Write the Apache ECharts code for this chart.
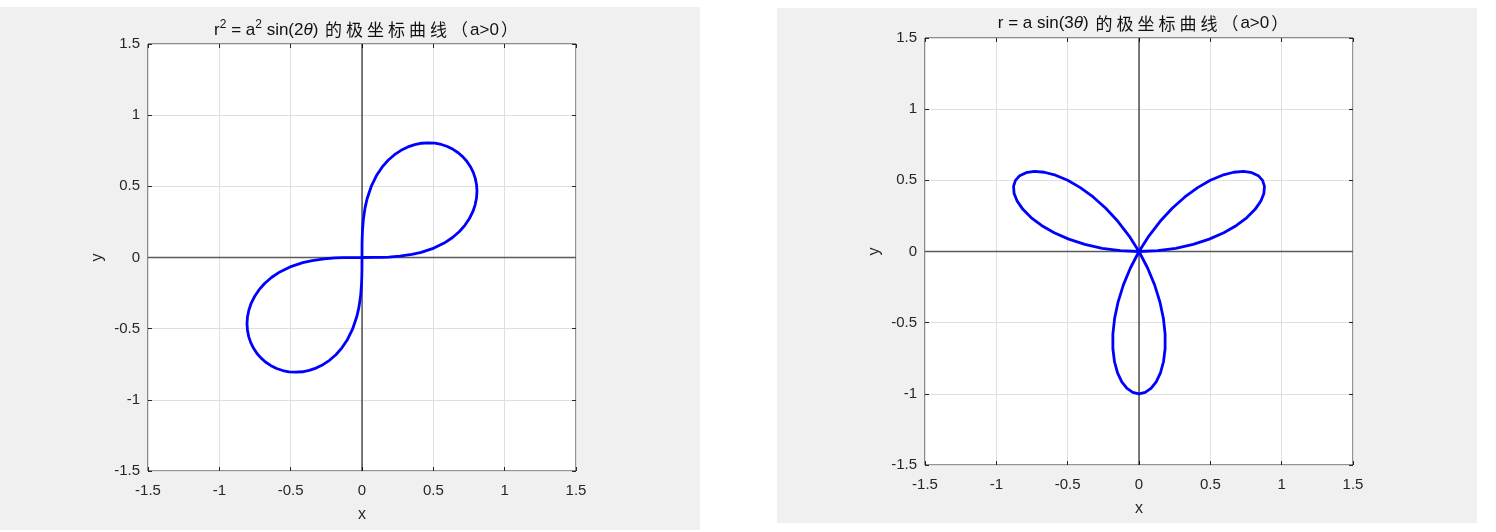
<!DOCTYPE html>
<html>
<head>
<meta charset="utf-8">
<script src="https://cdn.jsdelivr.net/npm/echarts@6/dist/echarts.min.js"></script>
<style>
html,body{margin:0;padding:0;background:#fff;}
#c{width:1496px;height:532px;}
</style>
</head>
<body>
<div id="c"></div>
<script>
// ---- data ----
const tickValues = [-1.5, -1, -0.5, 0, 0.5, 1, 1.5];

// lemniscate r^2 = a^2 sin(2θ), a = 1 (points along the curve)
const lemX = [0, 0.0934, 0.132, 0.187, 0.264, 0.349, 0.415, 0.504, 0.576, 0.6347, 0.683, 0.7223, 0.753, 0.7769, 0.793, 0.8028, 0.806, 0.8029, 0.794, 0.7798, 0.760, 0.7359, 0.707,
  0.6743, 0.638, 0.5983, 0.556, 0.5115, 0.465, 0.4179, 0.370, 0.3218, 0.274, 0.2277, 0.183, 0.1407, 0.1015, 0.0664, 0.0363, 0.0213, 0.0092, 0.0033, 0.0012, 0.0004, 0,
  -0.0934, -0.132, -0.187, -0.264, -0.349, -0.415, -0.504, -0.576, -0.6347, -0.683, -0.7223, -0.753, -0.7769, -0.793, -0.8028, -0.806, -0.8029, -0.794, -0.7798, -0.760, -0.7359, -0.707,
  -0.6743, -0.638, -0.5983, -0.556, -0.5115, -0.465, -0.4179, -0.370, -0.3218, -0.274, -0.2277, -0.183, -0.1407, -0.1015, -0.0664, -0.0363, -0.0213, -0.0092, -0.0033, -0.0012, -0.0004, 0];
const lemY = [0, 0.0004, 0.0012, 0.0033, 0.0092, 0.0213, 0.0363, 0.0664, 0.1015, 0.1407, 0.183, 0.2277, 0.274, 0.3218, 0.370, 0.4179, 0.465, 0.5115, 0.556, 0.5983, 0.638, 0.6743, 0.707,
  0.7359, 0.760, 0.7798, 0.794, 0.8029, 0.806, 0.8028, 0.793, 0.7769, 0.753, 0.7223, 0.683, 0.6347, 0.576, 0.504, 0.415, 0.349, 0.264, 0.187, 0.132, 0.0934, 0,
  -0.0004, -0.0012, -0.0033, -0.0092, -0.0213, -0.0363, -0.0664, -0.1015, -0.1407, -0.183, -0.2277, -0.274, -0.3218, -0.370, -0.4179, -0.465, -0.5115, -0.556, -0.5983, -0.638, -0.6743, -0.707,
  -0.7359, -0.760, -0.7798, -0.794, -0.8029, -0.806, -0.8028, -0.793, -0.7769, -0.753, -0.7223, -0.683, -0.6347, -0.576, -0.504, -0.415, -0.349, -0.264, -0.187, -0.132, -0.0934, 0];

// three-petal rose r = a sin(3θ), a = 1
const roseX = [0, 0.1304, 0.2578, 0.3794, 0.4924, 0.5944, 0.683, 0.7567, 0.8138, 0.8536, 0.8754, 0.8794, 0.866, 0.8361, 0.7913, 0.7330, 0.6634, 0.5850, 0.5, 0.4113, 0.3214, 0.2330, 0.1484, 0.0701, 0,
  -0.0603, -0.1094, -0.1464, -0.171, -0.1831, -0.183, -0.1717, -0.1504, -0.1206, -0.0842, -0.0432, 0, 0.0432, 0.0842, 0.1206, 0.1504, 0.1717, 0.183, 0.1831, 0.171, 0.1464, 0.1094, 0.0603, 0,
  -0.0701, -0.1484, -0.2330, -0.3214, -0.4113, -0.5, -0.5850, -0.6634, -0.7330, -0.7913, -0.8361, -0.866, -0.8794, -0.8754, -0.8536, -0.8138, -0.7567, -0.683, -0.5944, -0.4924, -0.3794, -0.2578, -0.1304, 0];
const roseY = [0, 0.0057, 0.0226, 0.0499, 0.0868, 0.1317, 0.183, 0.2386, 0.2962, 0.3536, 0.4082, 0.4577, 0.5, 0.5327, 0.554, 0.5625, 0.5567, 0.5360, 0.5, 0.4489, 0.383, 0.3036, 0.212, 0.1101, 0,
  -0.1158, -0.2346, -0.3536, -0.4698, -0.5806, -0.683, -0.7746, -0.8529, -0.9160, -0.9622, -0.9904, -1, -0.9904, -0.9622, -0.9160, -0.8529, -0.7746, -0.683, -0.5806, -0.4698, -0.3536, -0.2346, -0.1158, 0,
  0.1101, 0.212, 0.3036, 0.383, 0.4489, 0.5, 0.5360, 0.5567, 0.5625, 0.554, 0.5327, 0.5, 0.4577, 0.4082, 0.3536, 0.2962, 0.2386, 0.183, 0.1317, 0.0868, 0.0499, 0.0226, 0.0057, 0];

const zeroLineX = [[-1.5, 0], [1.5, 0]];
const zeroLineY = [[0, -1.5], [0, 1.5]];
const xName = 'x', yName = 'y';
const titleTail = '的极坐标曲线（a>0）';

// ---- chart ----
const FONT = "'Liberation Sans', Arial, 'Noto Sans CJK SC', sans-serif";
const zip = (xs, ys) => xs.map((v, i) => [v, ys[i]]);
const chart = echarts.init(document.getElementById('c'), null, {renderer: 'canvas'});

const grids = [
  {left: 148, top: 44, width: 428, height: 427},
  {left: 925, top: 38, width: 428, height: 427}
];

function axesFor(g) {
  const lo = tickValues[0], hi = tickValues[tickValues.length - 1], step = tickValues[1] - tickValues[0];
  const common = {type: 'value', gridIndex: g, min: lo, max: hi, interval: step,
    axisLine: {show: false, onZero: false},
    axisTick: {show: true, inside: true, length: 4, lineStyle: {color: '#262626', width: 1}}};
  const label = {show: true, color: '#262626', fontSize: 15, fontFamily: FONT};
  return {
    x: [
      Object.assign({}, common, {position: 'bottom', name: xName, nameLocation: 'middle', nameGap: 36,
        nameTextStyle: {color: '#262626', fontSize: 16, fontFamily: FONT},
        axisLabel: Object.assign({margin: 12}, label),
        splitLine: {show: true, lineStyle: {color: '#dfdfdf', width: 1}}}),
      Object.assign({}, common, {position: 'top', axisLabel: {show: false}, splitLine: {show: false}})
    ],
    y: [
      Object.assign({}, common, {position: 'left', name: yName, nameLocation: 'middle', nameGap: 42, nameRotate: 90,
        nameTextStyle: {color: '#262626', fontSize: 16, fontFamily: FONT},
        axisLabel: Object.assign({margin: 8}, label),
        splitLine: {show: true, lineStyle: {color: '#dfdfdf', width: 1}}}),
      Object.assign({}, common, {position: 'right', axisLabel: {show: false}, splitLine: {show: false}})
    ]
  };
}
const a0 = axesFor(0), a1 = axesFor(1);

const TC = '#111';
const titleRich = {
  n: {fontSize: 17, fontFamily: FONT, color: TC, fontWeight: 'normal'},
  s: {fontSize: 12, fontFamily: FONT, color: TC, fontWeight: 'normal', padding: [0, 0, 10, 0]},
  i: {fontSize: 17, fontFamily: FONT, fontStyle: 'italic', color: TC, fontWeight: 'normal'},
  c: {fontSize: 17, fontFamily: "'Noto Sans CJK SC', sans-serif", color: TC, fontWeight: 'normal', padding: [0, 2, 0, 2]}
};
// wrap each CJK / fullwidth character in its own spaced token, keep ASCII as normal text
function tail(s) {
  let out = '', buf = '';
  for (const ch of s) {
    if (ch.charCodeAt(0) > 255) {
      if (buf) { out += '{n|' + buf + '}'; buf = ''; }
      out += '{c|' + ch + '}';
    } else buf += ch;
  }
  if (buf) out += '{n|' + buf + '}';
  return out;
}

function curve(data, xi, yi) {
  return {type: 'line', xAxisIndex: xi, yAxisIndex: yi, data: data, showSymbol: false, smooth: false,
    lineStyle: {color: '#0000ff', width: 2.8, join: 'round', cap: 'round'}, silent: true, z: 5};
}
function zline(data, xi, yi, color, width) {
  return {type: 'line', xAxisIndex: xi, yAxisIndex: yi, data: data, showSymbol: false,
    lineStyle: {color: color, width: width}, silent: true, z: 3};
}

chart.setOption({
  animation: false,
  backgroundColor: '#fff',
  graphic: [
    {type: 'rect', shape: {x: 0, y: 7, width: 700, height: 523}, style: {fill: '#f0f0f0'}, z: -10, silent: true},
    {type: 'rect', shape: {x: 777, y: 8, width: 700, height: 515}, style: {fill: '#f0f0f0'}, z: -10, silent: true}
  ],
  title: [
    {text: '{n|r}{s|2}{n| = a}{s|2}{n| sin(2}{i|θ}{n|) }' + tail(titleTail), left: 362, top: 14, textAlign: 'center',
      textStyle: {fontWeight: 'normal', rich: titleRich}},
    {text: '{n|r = a sin(3}{i|θ}{n|) }' + tail(titleTail), left: 1139, top: 10, textAlign: 'center',
      textStyle: {fontWeight: 'normal', rich: titleRich}}
  ],
  grid: grids.map(g => Object.assign({show: true, backgroundColor: '#fff', borderColor: '#262626', borderWidth: 1}, g)),
  xAxis: [a0.x[0], a0.x[1], a1.x[0], a1.x[1]],
  yAxis: [a0.y[0], a0.y[1], a1.y[0], a1.y[1]],
  series: [
    zline(zeroLineX, 0, 0, '#5a5a5a', 1.6), zline(zeroLineY, 0, 0, '#000', 1),
    curve(zip(lemX, lemY), 0, 0),
    zline(zeroLineX, 2, 2, '#5a5a5a', 1.6), zline(zeroLineY, 2, 2, '#000', 1),
    curve(zip(roseX, roseY), 2, 2)
  ]
});
</script>
</body>
</html>
